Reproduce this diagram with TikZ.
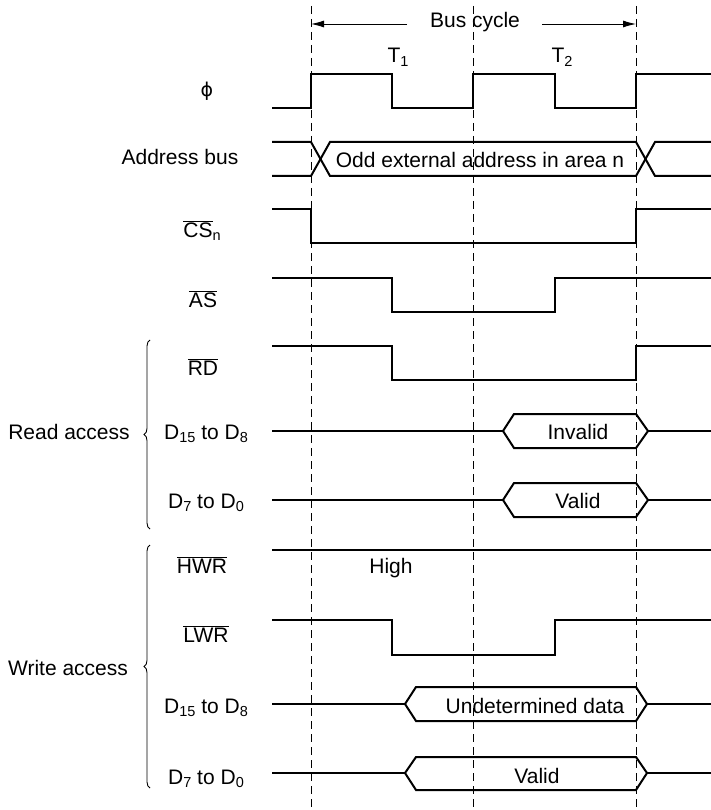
\documentclass[tikz,border=0pt]{standalone}
\usepackage{fontspec}
\setmainfont{Liberation Sans}
\newfontfamily\dejavu{DejaVu Sans}
\usetikzlibrary{arrows.meta,decorations.pathreplacing}
\newcommand\sbs[1]{\raisebox{-3.5pt}{\fontsize{14.5}{15}\selectfont #1}}
\newcommand\ovl[1]{$\overline{\mbox{#1}}$}
\begin{document}
\begin{tikzpicture}[x=1pt,y=-1pt,
  sig/.style={line width=2pt, line join=miter},
  grid/.style={line width=0.9pt, dash pattern=on 8pt off 5pt},
  lbl/.style={anchor=base, inner sep=0pt, font=\fontsize{21}{25}\selectfont},
  brc/.style={line width=0.9pt, decorate, decoration={brace, amplitude=6pt}},
  arr/.style={line width=0.9pt, -{Latex[length=13pt,width=7pt]}}]
\useasboundingbox (0,0) rectangle (711,810);
% dashed reference lines
\foreach \x/\n in {311/a,473/b,636/c}{
  \coordinate (top\n) at (\x,6);
  \coordinate (bot\n) at (\x,810);
  \draw[grid] (top\n) -- (bot\n);
}
% top labels
\node[lbl] (bus) at (475,28) {Bus cycle};
\coordinate (arrL) at (407,24);
\coordinate (arrR) at (542,24);
\coordinate (endL) at (311,24);
\coordinate (endR) at (636,24);
\draw[arr] (arrL) -- (endL);
\draw[arr] (arrR) -- (endR);
\node[lbl] (t1) at (398,63) {T\sbs{1}};
\node[lbl] (t2) at (562,63) {T\sbs{2}};
% signal names
\node[lbl, anchor=center] (phi) at (207,91) {{\dejavu\fontsize{19}{22}\selectfont ϕ}};
\node[lbl] (addr) at (180,165) {Address bus};
\node[lbl] (cs) at (202,237) {\ovl{CS}\sbs{n}};
\node[lbl] (as) at (203,307) {\ovl{AS}};
\node[lbl] (rd) at (203,375) {\ovl{RD}};
\node[lbl] (rdh) at (206,439) {D\sbs{15} to D\sbs{8}};
\node[lbl] (rdl) at (206,508) {D\sbs{7} to D\sbs{0}};
\node[lbl] (racc) at (69,439) {Read access};
\node[lbl] (hwr) at (202,573) {\ovl{HWR}};
\node[lbl] (lwr) at (206,642) {\ovl{LWR}};
\node[lbl] (wacc) at (68,675) {Write access};
\node[lbl] (wrh) at (206,713) {D\sbs{15} to D\sbs{8}};
\node[lbl] (wrl) at (206,784) {D\sbs{7} to D\sbs{0}};
% braces
\coordinate (rb1) at (150,529);
\coordinate (rb2) at (150,340);
\coordinate (wb1) at (150,788);
\coordinate (wb2) at (150,545);
\draw[brc] (rb1) -- (rb2);
\draw[brc] (wb1) -- (wb2);
% phi
\draw[sig] (272,108) -- (311,108) -- (311,74) -- (392,74) -- (392,108) -- (473,108) -- (473,74) -- (555,74) -- (555,108) -- (636,108) -- (636,74) -- (711,74);
% address bus
\draw[sig] (272,142) -- (311,142) -- (330,176) -- (636,176) -- (655,142) -- (711,142);
\draw[sig] (272,176) -- (311,176) -- (330,142) -- (636,142) -- (655,176) -- (711,176);
\node[lbl] (odd) at (480,168) {Odd external address in area n};
% CS
\draw[sig] (272,209) -- (311,209) -- (311,243) -- (636,243) -- (636,209) -- (711,209);
% AS
\draw[sig] (272,278) -- (392,278) -- (392,312) -- (555,312) -- (555,278) -- (711,278);
% RD
\draw[sig] (272,346) -- (392,346) -- (392,380) -- (636,380) -- (636,346) -- (711,346);
% read D15-D8
\draw[sig] (272,431) -- (503,431);
\draw[sig] (503,431) -- (514,414) -- (636,414) -- (648,431) -- (636,448) -- (514,448) -- cycle;
\draw[sig] (648,431) -- (711,431);
\node[lbl] (inv) at (578,439) {Invalid};
% read D7-D0
\draw[sig] (272,500) -- (503,500);
\draw[sig] (503,500) -- (514,483) -- (636,483) -- (648,500) -- (636,517) -- (514,517) -- cycle;
\draw[sig] (648,500) -- (711,500);
\node[lbl] (val1) at (578,508) {Valid};
% HWR
\draw[sig] (272,550) -- (711,550);
\node[lbl] (high) at (391,573) {High};
% LWR
\draw[sig] (272,620) -- (392,620) -- (392,655) -- (555,655) -- (555,620) -- (711,620);
% write D15-D8
\draw[sig] (272,704) -- (405,704);
\draw[sig] (405,704) -- (416,687) -- (636,687) -- (647,704) -- (636,721) -- (416,721) -- cycle;
\draw[sig] (647,704) -- (711,704);
\node[lbl] (und) at (535,713) {Undetermined data};
% write D7-D0
\draw[sig] (272,773) -- (405,773);
\draw[sig] (405,773) -- (416,757) -- (636,757) -- (647,773) -- (636,790) -- (416,790) -- cycle;
\draw[sig] (647,773) -- (711,773);
\node[lbl] (val2) at (537,783) {Valid};
\end{tikzpicture}
\end{document}
